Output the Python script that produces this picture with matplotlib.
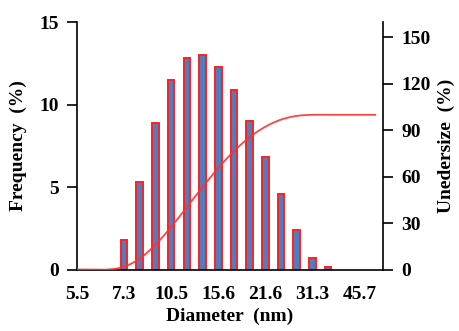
import numpy as np
import matplotlib
matplotlib.use("Agg")
import matplotlib.pyplot as plt

# ---- data ----
bin_labels = ["5.5", "", "", "7.3", "", "", "10.5", "", "", "15.6", "", "",
              "21.6", "", "", "31.3", "", "", "45.7", ""]
frequency = [0, 0, 0, 1.8, 5.3, 8.9, 11.5, 12.8, 13.0, 12.3, 10.9, 9.0,
             6.8, 4.6, 2.4, 0.7, 0.15, 0, 0, 0]
undersize = [0, 0, 0, 1.8, 7.1, 16.0, 27.5, 40.3, 53.3, 65.6, 76.5, 85.5,
             92.3, 96.9, 99.3, 100, 100, 100, 100, 100]
freq_ticks = [0, 5, 10, 15]
under_ticks = [0, 30, 60, 90, 120, 150]

plt.rcParams['font.family'] = ['Liberation Serif', 'DejaVu Serif']
plt.rcParams['font.weight'] = 'bold'
FS = 14

fig = plt.figure(figsize=(4.6, 3.31), dpi=100)
ax = fig.add_axes([0.1674, 0.1858, 0.6652, 0.7477])
ax2 = ax.twinx()

x = np.arange(len(bin_labels))
mask = np.array(frequency) > 0
ax.bar(x[mask], np.array(frequency)[mask], width=0.42, color='#4F7EC0',
       edgecolor='#FF2020', linewidth=1.4, zorder=2)


def smooth(xs, ys, n=20):
    # Catmull-Rom style smoothing of the line through the data points
    xs = np.asarray(xs, float); ys = np.asarray(ys, float)
    px = np.concatenate([[xs[0]], xs, [xs[-1]]])
    py = np.concatenate([[ys[0]], ys, [ys[-1]]])
    ox, oy = [], []
    for i in range(1, len(px) - 2):
        p0, p1, p2, p3 = [np.array([px[j], py[j]]) for j in (i - 1, i, i + 1, i + 2)]
        c1 = p1 + (p2 - p0) / 6.0
        c2 = p2 - (p3 - p1) / 6.0
        t = np.linspace(0, 1, n)[:, None]
        b = ((1 - t) ** 3) * p1 + 3 * ((1 - t) ** 2) * t * c1 + 3 * (1 - t) * t ** 2 * c2 + t ** 3 * p2
        ox.extend(b[:, 0]); oy.extend(b[:, 1])
    return np.array(ox), np.array(oy)


sx, sy = smooth(x, undersize)
ax2.plot(sx, sy, color='#FF3030', linewidth=1.3, alpha=0.9, zorder=3)

ax.set_xlim(0, 19.5)
ax.set_ylim(0, 15)
ax2.set_ylim(0, 160)

ax.set_xticks(x)
ax.set_xticklabels(bin_labels, fontsize=FS, fontweight='bold')
ax.tick_params(axis='x', length=0, pad=12)
ax.set_yticks(freq_ticks)
ax.set_yticklabels([str(v) for v in freq_ticks], fontsize=FS, fontweight='bold')
ax.tick_params(axis='y', direction='out', length=7, width=1.2, pad=6)
ax2.set_yticks(under_ticks)
ax2.set_yticklabels([str(v) for v in under_ticks], fontsize=FS, fontweight='bold')
ax2.tick_params(axis='y', direction='out', length=7, width=1.2, pad=6)

for a in (ax, ax2):
    a.spines['top'].set_visible(False)
    for s in ('left', 'right', 'bottom'):
        a.spines[s].set_linewidth(1.2)
ax.spines['right'].set_visible(False)
ax2.spines['left'].set_visible(False)
ax2.spines['bottom'].set_visible(False)

ax.set_xlabel('Diameter  (nm)', fontsize=FS, fontweight='bold', labelpad=3)
ax.set_ylabel('Frequency  (%)', fontsize=FS, fontweight='bold', labelpad=9)
ax2.set_ylabel('Unedersize  (%)', fontsize=FS, fontweight='bold', labelpad=5)

fig.savefig('out.png', dpi=100)
